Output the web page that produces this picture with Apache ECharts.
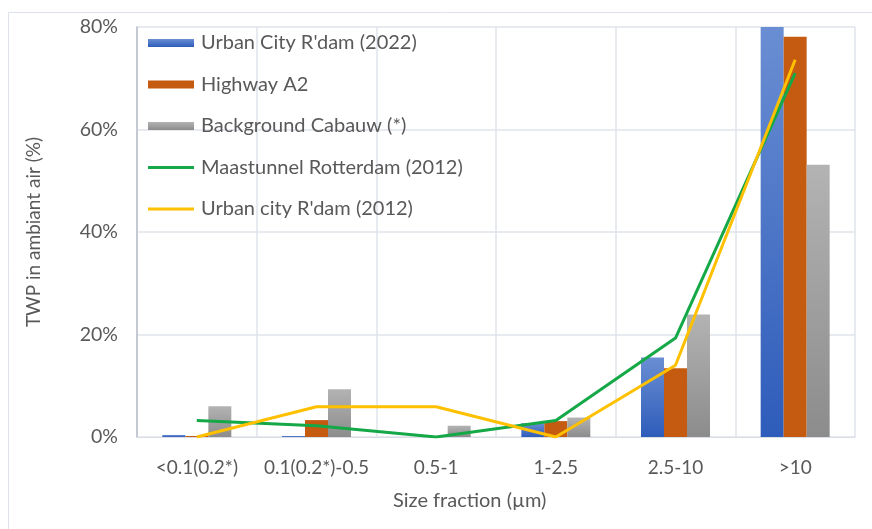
<!DOCTYPE html>
<html>
<head>
<meta charset="utf-8">
<script src="https://cdn.jsdelivr.net/npm/echarts@6/dist/echarts.min.js"></script>
<style>
  html, body { margin: 0; padding: 0; background: #fff; }
  #chart { width: 872px; height: 529px; }
</style>
</head>
<body>
<div id="chart"></div>
<script>
// Size fractions (µm)
const categories = ['<0.1(0.2*)', '0.1(0.2*)-0.5', '0.5-1', '1-2.5', '2.5-10', '>10'];

// Share of tyre wear particles per size fraction (%)
const urbanCity2022 = [0.4, 0.2, 0, 2.7, 15.5, 80];
const highwayA2 = [0.2, 3.3, 0.2, 3.1, 13.4, 78.1];
const backgroundCabauw = [6.0, 9.3, 2.2, 3.8, 23.9, 53.1];
const maastunnel2012 = [3.2, 2.2, 0, 3.2, 19.3, 71];
const urbanCity2012 = [0, 5.9, 5.9, 0, 14, 73.6];

const yTicks = [0, 20, 40, 60, 80];

const font = 'Lato, "Open Sans", sans-serif';
const textColor = '#595959';

// thin horizontal stroke used as legend key for the line series
const lineKey = 'path://M0,0h0.01v0.01h-0.01z M0,2.6h46v2.8h-46z M0,8h0.01v0.01h-0.01z';

const chart = echarts.init(document.getElementById('chart'));

function vGrad(top, bottom) {
  return new echarts.graphic.LinearGradient(0, 0, 0, 1, [
    { offset: 0, color: top },
    { offset: 1, color: bottom }
  ]);
}

chart.setOption({
  animation: false,
  backgroundColor: '#fff',
  textStyle: { fontFamily: font },
  grid: { left: 137, right: 17, top: 27, bottom: 92, containLabel: false },
  legend: {
    orient: 'vertical',
    left: 148,
    top: 33,
    padding: 0,
    itemWidth: 46,
    itemHeight: 8,
    itemGap: 21.5,
    textStyle: { fontFamily: font, fontSize: 20, lineHeight: 20, color: textColor, padding: [0, 0, 0, 2] },
    data: [
      { name: 'Urban City R\'dam (2022)', icon: 'rect' },
      { name: 'Highway A2', icon: 'rect' },
      { name: 'Background Cabauw (*)', icon: 'rect' },
      { name: 'Maastunnel Rotterdam (2012)', icon: lineKey },
      { name: 'Urban city R\'dam (2012)', icon: lineKey }
    ]
  },
  graphic: [
    {
      type: 'rect',
      shape: { x: 8.5, y: 12.5, width: 900, height: 600 },
      style: { fill: 'none', stroke: '#dde2ea', lineWidth: 1 },
      silent: true,
      z: -1
    },
    {
      type: 'text',
      left: 393,
      top: 491,
      style: { text: 'Size fraction (µm)', font: '20px ' + font, fill: textColor }
    }
  ],
  xAxis: {
    type: 'category',
    data: categories,
    boundaryGap: true,
    axisTick: { show: false },
    axisLine: { show: true, lineStyle: { color: '#d9dde5', width: 1 } },
    splitLine: { show: true, lineStyle: { color: '#dfe3ea', width: 1.5 } },
    axisLabel: { fontFamily: font, fontSize: 19, color: textColor, margin: 21, interval: 0 }
  },
  yAxis: {
    type: 'value',
    min: 0,
    max: 80,
    interval: 20,
    name: 'TWP in ambiant air (%)',
    nameLocation: 'middle',
    nameGap: 94,
    nameRotate: 90,
    nameTextStyle: { fontFamily: font, fontSize: 19, color: textColor },
    axisLine: { show: true, lineStyle: { color: '#b8bec8', width: 1.5 } },
    axisTick: { show: false },
    splitLine: { show: true, lineStyle: { color: '#dfe3ea', width: 1.5 } },
    axisLabel: {
      fontFamily: font, fontSize: 19.5, color: textColor, margin: 19,
      formatter: v => (yTicks.includes(v) ? v + '%' : '')
    }
  },
  series: [
    {
      name: 'Urban City R\'dam (2022)',
      type: 'bar',
      data: urbanCity2022,
      barWidth: 23,
      barGap: '0%',
      itemStyle: { color: vGrad('#6a8ed3', '#2e5cba') },
      z: 2
    },
    {
      name: 'Highway A2',
      type: 'bar',
      data: highwayA2,
      barWidth: 23,
      barGap: '0%',
      itemStyle: { color: '#c55a11' },
      z: 2
    },
    {
      name: 'Background Cabauw (*)',
      type: 'bar',
      data: backgroundCabauw,
      barWidth: 23,
      barGap: '0%',
      itemStyle: { color: vGrad('#b3b3b3', '#8c8c8c') },
      z: 2
    },
    {
      name: 'Maastunnel Rotterdam (2012)',
      type: 'line',
      data: maastunnel2012,
      symbol: 'none',
      lineStyle: { color: '#14a846', width: 3 },
      itemStyle: { color: '#14a846' },
      z: 4
    },
    {
      name: 'Urban city R\'dam (2012)',
      type: 'line',
      data: urbanCity2012,
      symbol: 'none',
      lineStyle: { color: '#ffc000', width: 3 },
      itemStyle: { color: '#ffc000' },
      z: 5
    }
  ]
});
</script>
</body>
</html>
